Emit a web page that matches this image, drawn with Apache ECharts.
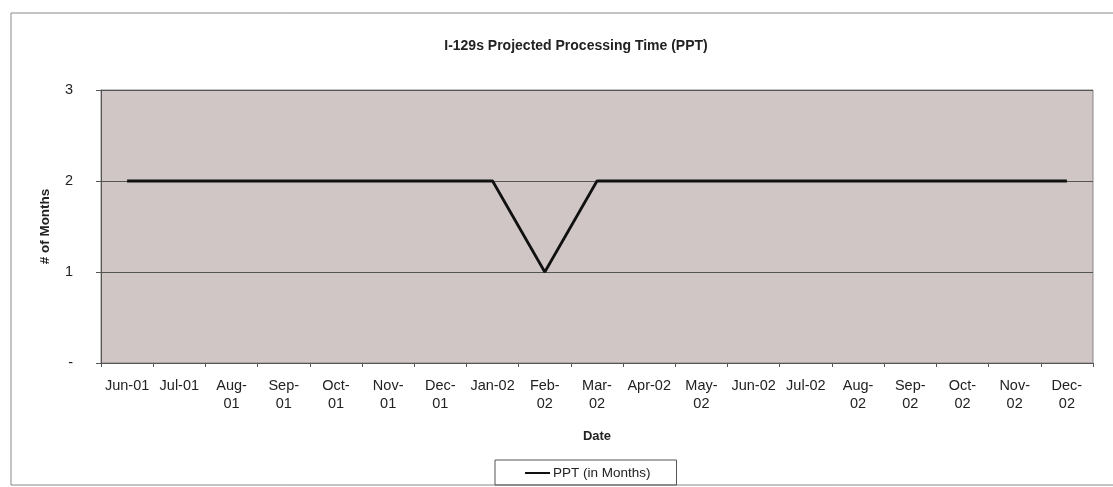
<!DOCTYPE html>
<html>
<head>
<meta charset="utf-8">
<script src="https://cdn.jsdelivr.net/npm/echarts@6/dist/echarts.min.js"></script>
<style>
html, body { margin: 0; padding: 0; background: #fff; }
#main { width: 1113px; height: 487px; }
</style>
</head>
<body>
<div id="main"></div>
<script>
// months on the x axis
var categories = ['Jun-01', 'Jul-01', 'Aug-01', 'Sep-01', 'Oct-01', 'Nov-01', 'Dec-01', 'Jan-02', 'Feb-02',
    'Mar-02', 'Apr-02', 'May-02', 'Jun-02', 'Jul-02', 'Aug-02', 'Sep-02', 'Oct-02', 'Nov-02', 'Dec-02'];
// labels as wrapped in the original
var tickLabels = ['Jun-01', 'Jul-01', 'Aug-\n01', 'Sep-\n01', 'Oct-\n01', 'Nov-\n01', 'Dec-\n01', 'Jan-02', 'Feb-\n02',
    'Mar-\n02', 'Apr-02', 'May-\n02', 'Jun-02', 'Jul-02', 'Aug-\n02', 'Sep-\n02', 'Oct-\n02', 'Nov-\n02', 'Dec-\n02'];
var pptValues = [2, 2, 2, 2, 2, 2, 2, 2, 1, 2, 2, 2, 2, 2, 2, 2, 2, 2, 2];
var yTicks = ['-', '1', '2', '3'];

var myChart = echarts.init(document.getElementById('main'));
var font = 'Liberation Sans, Arial, sans-serif';

var option = {
    backgroundColor: '#fff',
    textStyle: { fontFamily: font },
    title: {
        text: 'I-129s Projected Processing Time (PPT)',
        left: 571,
        top: 34,
        textAlign: 'center',
        textStyle: { fontSize: 14, fontWeight: 'bold', color: '#222', fontFamily: font }
    },
    graphic: [{
        type: 'rect',
        shape: { x: 11, y: 13, width: 1110, height: 472 },
        style: { fill: 'none', stroke: '#888', lineWidth: 1 },
        silent: true,
        z: -1
    }],
    legend: {
        data: ['PPT (in Months)'],
        left: 495,
        top: 460,
        itemWidth: 25,
        itemHeight: 2,
        padding: [6, 26, 5, 30],
        borderColor: '#555',
        borderWidth: 1,
        icon: 'rect',
        itemGap: 4,
        textStyle: { fontSize: 13.5, color: '#222', fontFamily: font, padding: [0, 0, 0, -2] }
    },
    grid: {
        left: 101,
        right: 20,
        top: 90,
        bottom: 124,
        show: true,
        backgroundColor: '#d0c6c6',
        borderColor: '#8a8585',
        borderWidth: 1
    },
    xAxis: {
        type: 'category',
        data: categories,
        boundaryGap: true,
        name: 'Date',
        nameLocation: 'middle',
        nameGap: 67,
        nameTextStyle: { fontSize: 13, fontWeight: 'bold', color: '#222', fontFamily: font },
        axisLine: { lineStyle: { color: '#555', width: 1 } },
        axisTick: { show: true, alignWithLabel: false, length: 4, lineStyle: { color: '#555' } },
        axisLabel: {
            interval: 0,
            fontSize: 14.5,
            color: '#222',
            margin: 14,
            lineHeight: 18,
            formatter: function (v, i) { return tickLabels[i]; }
        },
        splitLine: { show: false }
    },
    yAxis: {
        type: 'value',
        min: 0,
        max: 3,
        interval: 1,
        name: '# of Months',
        nameLocation: 'middle',
        nameGap: 49,
        nameRotate: 90,
        nameTextStyle: { fontSize: 13.5, fontWeight: 'bold', color: '#222', fontFamily: font },
        axisLine: { show: true, lineStyle: { color: '#555', width: 1 } },
        axisTick: { show: true, length: 5, lineStyle: { color: '#555' } },
        axisLabel: {
            fontSize: 14.5,
            color: '#222',
            margin: 28,
            formatter: function (v) { return yTicks[Math.round(v)]; }
        },
        splitLine: { show: true, lineStyle: { color: '#555', width: 1 } }
    },
    series: [{
        name: 'PPT (in Months)',
        type: 'line',
        data: pptValues,
        symbol: 'none',
        lineStyle: { color: '#111', width: 2.8 },
        itemStyle: { color: '#111' }
    }]
};

myChart.setOption(option);
</script>
</body>
</html>
